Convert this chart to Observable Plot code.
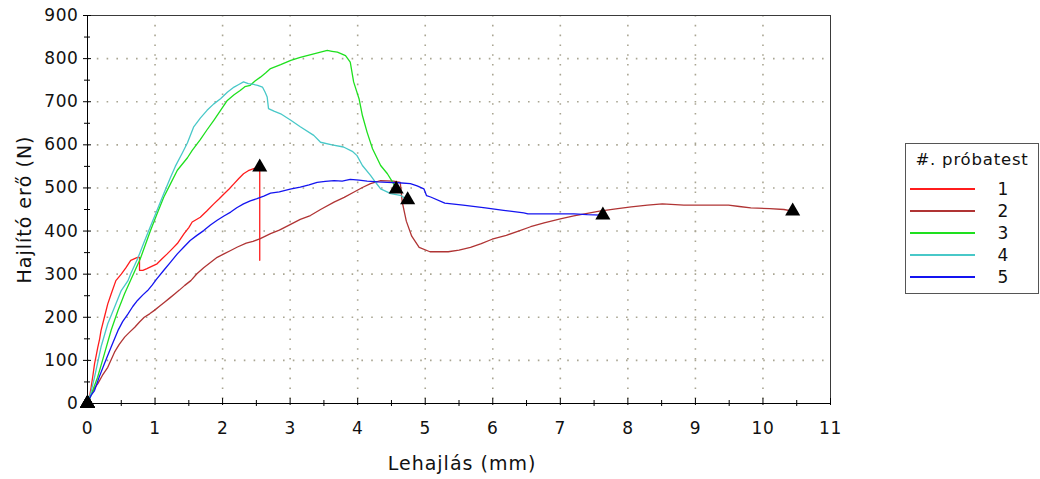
<!DOCTYPE html>
<html>
<head>
<meta charset="utf-8">
<script src="https://cdn.jsdelivr.net/npm/d3@7"></script>
<script src="https://cdn.jsdelivr.net/npm/@observablehq/plot@0.6"></script>
<style>
  body { margin: 0; background: #fff; font-family: "DejaVu Sans", Verdana, sans-serif; }
  #wrap { position: relative; width: 1040px; height: 479px; }
  .legend { position: absolute; left: 905px; top: 143px; width: 132px; height: 149px;
            border: 1px solid #555; background: #fff; color: #111; }
  .legend .title { position: absolute; left: 0; right: 0; top: 6px; text-align: center; font-size: 16.5px; letter-spacing: 0.8px; }
  .legend .swatch { position: absolute; left: 4px; width: 65px; height: 2px; }
  .legend .lab { position: absolute; left: 84px; width: 26px; text-align: center; font-size: 17px; line-height: 18px; }
</style>
</head>
<body>
<div id="wrap"></div>
<script>
// Three-point bending tests: bending force vs. deflection for five specimens.
const testNames = ["1", "2", "3", "4", "5"];
const testColors = ["#ff1c1c", "#b03434", "#1ee01e", "#48c8c8", "#1414f0"];

// [deflection (mm), force (N)]
const test1 = [[0,0],[0.03,15],[0.054,38],[0.08,65],[0.104,92],[0.13,112],[0.153,131],[0.18,150],[0.2,169],[0.25,200],[0.3,231],[0.35,254],[0.42,285],[0.5,300],[0.57,315],[0.64,332],[0.74,339],[0.77,339],[0.77,309],[0.82,309],[0.88,313],[0.95,318],[1.03,324],[1.1,335],[1.18,347],[1.25,358],[1.33,371],[1.43,394],[1.5,408],[1.55,421],[1.67,432],[1.77,447],[1.87,463],[1.95,475],[2.02,486],[2.1,498],[2.17,510],[2.24,522],[2.31,533],[2.38,540],[2.46,545],[2.55,548],[2.55,332]];

const test2 = [[0,0],[0.05,20],[0.1,35],[0.153,46],[0.22,65],[0.3,84],[0.4,119],[0.47,137],[0.55,154],[0.62,165],[0.7,177],[0.77,189],[0.84,200],[0.92,208],[0.99,216],[1.07,226],[1.14,235],[1.22,245],[1.29,254],[1.36,263],[1.44,274],[1.53,285],[1.62,301],[1.72,315],[1.82,327],[1.92,339],[2.02,347],[2.12,355],[2.22,363],[2.35,372],[2.45,376],[2.55,382],[2.71,394],[2.84,402],[3,415],[3.15,427],[3.3,436],[3.45,450],[3.65,467],[3.8,478],[3.94,490],[4.07,501],[4.19,510],[4.34,517],[4.53,516],[4.63,513],[4.66,467],[4.72,423],[4.8,388],[4.91,362],[5.07,352],[5.34,352],[5.5,356],[5.67,362],[5.83,371],[5.99,381],[6.2,390],[6.38,400],[6.56,410],[6.76,419],[7,428],[7.2,435],[7.4,441],[7.58,446],[7.85,452],[8.05,456],[8.29,460],[8.51,463],[8.83,460],[9.2,460],[9.49,460],[9.65,457],[9.82,454],[10.1,452],[10.31,450],[10.44,446]];

const test3 = [[0,0],[0.05,18],[0.1,40],[0.15,61],[0.25,115],[0.35,170],[0.45,215],[0.55,255],[0.65,290],[0.78,335],[0.93,400],[1.03,440],[1.13,479],[1.23,510],[1.33,541],[1.48,570],[1.55,587],[1.67,612],[1.77,635],[1.87,657],[1.97,680],[2.07,703],[2.17,716],[2.26,726],[2.33,735],[2.41,738],[2.48,748],[2.56,757],[2.64,767],[2.71,777],[2.86,786],[3.01,796],[3.15,803],[3.35,811],[3.45,815],[3.55,819],[3.62,817],[3.7,815],[3.82,807],[3.89,792],[3.94,746],[4.02,707],[4.07,668],[4.14,629],[4.22,591],[4.34,552],[4.44,533],[4.53,510],[4.57,498]];

const test4 = [[0,0],[0.05,25],[0.104,61],[0.2,131],[0.3,185],[0.4,223],[0.5,262],[0.6,285],[0.64,301],[0.74,335],[0.83,371],[0.93,410],[1.03,448],[1.13,487],[1.23,525],[1.3,550],[1.4,580],[1.48,605],[1.57,641],[1.67,662],[1.77,680],[1.87,695],[1.97,707],[2.07,722],[2.17,734],[2.24,740],[2.31,746],[2.38,742],[2.46,740],[2.52,738],[2.59,734],[2.63,722],[2.66,711],[2.68,684],[2.76,678],[2.86,672],[3.01,657],[3.15,642],[3.35,622],[3.45,606],[3.62,600],[3.79,595],[3.92,585],[3.99,575],[4.07,552],[4.19,529],[4.27,512],[4.34,498],[4.49,487],[4.63,483],[4.74,473]];

const test5 = [[0,0],[0.05,18],[0.104,30],[0.17,60],[0.25,92],[0.35,131],[0.45,169],[0.52,190],[0.6,208],[0.67,225],[0.74,239],[0.82,252],[0.89,262],[0.96,275],[1.02,288],[1.13,309],[1.23,328],[1.33,347],[1.42,362],[1.52,378],[1.62,390],[1.72,401],[1.82,414],[1.92,425],[2.02,435],[2.12,444],[2.21,454],[2.31,463],[2.41,470],[2.51,475],[2.61,481],[2.71,488],[2.84,491],[3,497],[3.15,502],[3.28,507],[3.4,513],[3.52,515],[3.65,517],[3.77,516],[3.89,520],[4.02,518],[4.14,516],[4.3,514],[4.44,513],[4.6,512],[4.78,510],[4.88,505],[4.98,498],[5.02,482],[5.08,479],[5.29,465],[5.56,460],[5.89,454],[6.16,448],[6.46,442],[6.52,440],[6.76,440],[7,440],[7.2,440],[7.4,438],[7.6,437]];

// break points marked with a triangle: [deflection, force]
const breakPoints = [[2.55,548],[10.44,446],[4.57,497],[4.74,472],[7.63,437]];

const xTicks = [0,1,2,3,4,5,6,7,8,9,10,11];
const xMinor = [0.5,1.5,2.5,3.5,4.5,5.5,6.5,7.5,8.5,9.5,10.5];
const yTicks = [0,100,200,300,400,500,600,700,800,900];
const yMinor = [50,150,250,350,450,550,650,750,850];

const xLabel = "Lehajlás (mm)";
const yLabel = "Hajlító erő (N)";

const curves = [test1, test2, test3, test4, test5];
const rows = curves.flatMap((pts, i) => pts.map(([x, y]) => ({x, y, test: testNames[i]})));
const markers = [
  ...testNames.map(t => ({x: 0, y: 0, test: t})),
  ...breakPoints.map(([x, y], i) => ({x, y, test: testNames[i]}))
];

const blank = () => "";
const gridStyle = {stroke: "#a9a592", strokeOpacity: 1, strokeWidth: 1.6, strokeDasharray: "1.6,8.2"};

const chart = Plot.plot({
  width: 1040,
  height: 479,
  marginLeft: 87,
  marginRight: 210,
  marginTop: 15,
  marginBottom: 76,
  x: {domain: [0, 11]},
  y: {domain: [0, 900]},
  color: {domain: testNames, range: testColors},
  style: {fontFamily: "DejaVu Sans, Verdana, sans-serif", fontSize: "16px", color: "#111", background: "#fff"},
  marks: [
    Plot.gridX(xTicks.slice(1, -1), gridStyle),
    Plot.gridY(yTicks.slice(1, -1), gridStyle),
    Plot.frame({stroke: "#3a3a3a"}),
    Plot.ruleX([0], {stroke: "#000"}),
    Plot.ruleY([0], {stroke: "#000"}),
    // tick marks straddling the axis lines
    Plot.axisX(xTicks, {tickSize: 7, dy: -5, tickFormat: blank, label: null, stroke: "#000"}),
    Plot.axisX(xMinor, {tickSize: 6, dy: -3, tickFormat: blank, label: null, stroke: "#000"}),
    Plot.axisY(yTicks, {tickSize: 8, dx: 4, tickFormat: blank, label: null, stroke: "#000"}),
    Plot.axisY(yMinor, {tickSize: 6, dx: 3, tickFormat: blank, label: null, stroke: "#000"}),
    // tick labels
    Plot.axisX(xTicks, {tickSize: 0, tickPadding: 18, label: null, fontSize: 17, fill: "#111"}),
    Plot.axisY(yTicks, {tickSize: 0, tickPadding: 9, label: null, fontSize: 17, fill: "#111"}),
    Plot.text([xLabel], {text: d => d, frameAnchor: "bottom", textAnchor: "middle", lineAnchor: "middle",
                         dy: 60, dx: 3, fontSize: 19, fill: "#111"}),
    Plot.text([yLabel], {text: d => d, frameAnchor: "left", textAnchor: "middle", lineAnchor: "middle",
                         rotate: -90, dx: -63, fontSize: 19, fill: "#111"}),
    Plot.line(rows, {x: "x", y: "y", z: "test", stroke: "test", strokeWidth: 1.3}),
    Plot.dot(markers, {x: "x", y: "y", symbol: "triangle", r: 5.6, fill: "#000", stroke: "none"})
  ]
});

// slightly looser letter spacing for all chart text
d3.select(chart).selectAll("text").style("letter-spacing", "0.6px");
d3.select(chart).selectAll("text")
  .filter(function () { return this.textContent === xLabel || this.textContent === yLabel; })
  .style("letter-spacing", "1px");

const wrap = document.getElementById("wrap");
wrap.appendChild(chart);

// legend box on the right
const legend = document.createElement("div");
legend.className = "legend";
const title = document.createElement("div");
title.className = "title";
title.textContent = "#. próbatest";
legend.appendChild(title);
testNames.forEach((name, i) => {
  const top = 45 + i * 22;
  const sw = document.createElement("div");
  sw.className = "swatch";
  sw.style.top = (top - 1) + "px";
  sw.style.background = testColors[i];
  legend.appendChild(sw);
  const lab = document.createElement("div");
  lab.className = "lab";
  lab.style.top = (top - 9) + "px";
  lab.textContent = name;
  legend.appendChild(lab);
});
wrap.appendChild(legend);
</script>
</body>
</html>
